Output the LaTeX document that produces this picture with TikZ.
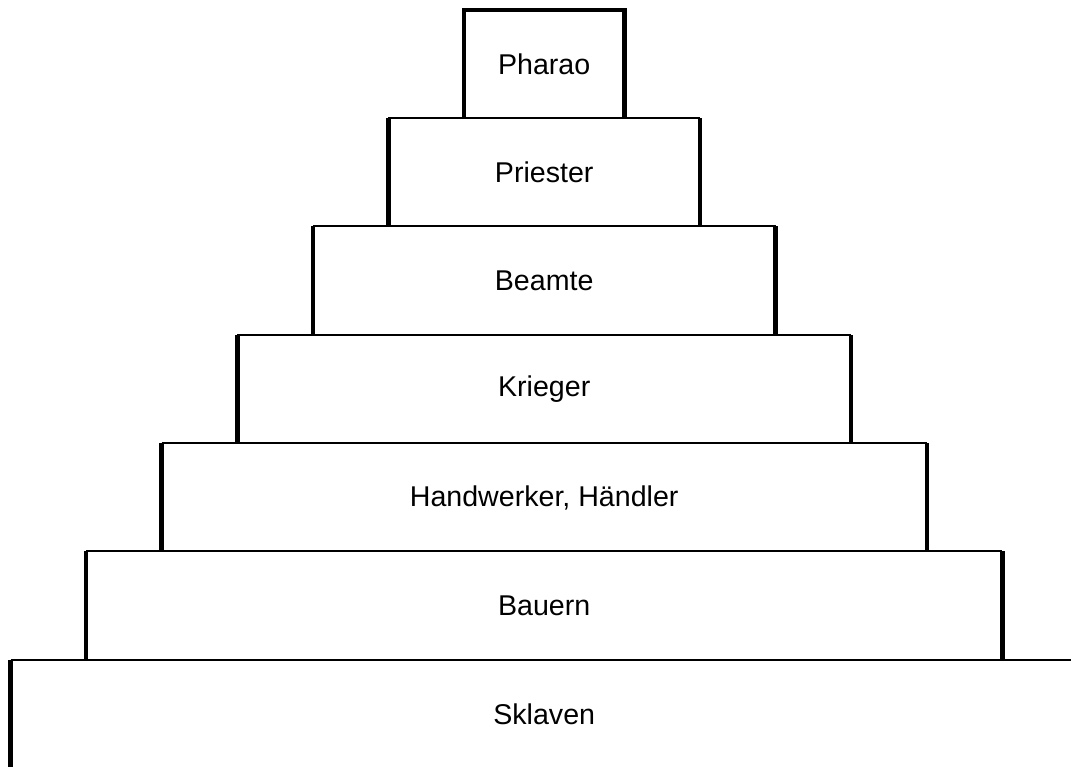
\documentclass[tikz,border=0pt]{standalone}
\usepackage{fontspec}
\setmainfont{Liberation Sans}
\begin{document}
\begin{tikzpicture}[x=1pt,y=-1pt,
  tier/.style={rectangle, inner sep=0pt, minimum height=108.33pt,
    font=\fontsize{28.6}{31}\selectfont},
  side/.style={line width=4.5pt},
  rim/.style={line width=2pt}]
\useasboundingbox (0,0) rectangle (1071,766);

% the tiers of the pyramid, from the top down
\node[tier, minimum width=160pt]   (pharao)   at (544.2, 64.2)  {Pharao};
\node[tier, minimum width=311.2pt] (priester) at (544.2, 172.5) {Priester};
\node[tier, minimum width=462.3pt] (beamte)   at (544.2, 280.8) {Beamte};
\node[tier, minimum width=613.5pt] (krieger)  at (544.2, 389.2) {Krieger};
\node[tier, minimum width=764.7pt] (handw)    at (544.2, 497.5) {Handwerker, Händler};
\node[tier, minimum width=915.8pt] (bauern)   at (544.2, 605.8) {Bauern};
\node[tier, minimum width=1067pt]  (sklaven)  at (544.2, 714.2) {Sklaven};

% thin upper edge of every tier below the top
\foreach \t in {priester,beamte,krieger,handw,bauern,sklaven}
  \draw[rim] (\t.north west) -- (\t.north east);

% heavy sides
\draw[side, line join=miter] (pharao.south west) -- (pharao.north west)
  -- (pharao.north east) -- (pharao.south east);
\foreach \t in {priester,beamte,krieger,handw,bauern}{
  \draw[side] (\t.south west) -- (\t.north west);
  \draw[side] (\t.south east) -- (\t.north east);
}
\draw[side] (sklaven.south west) -- (sklaven.north west);
\end{tikzpicture}
\end{document}
